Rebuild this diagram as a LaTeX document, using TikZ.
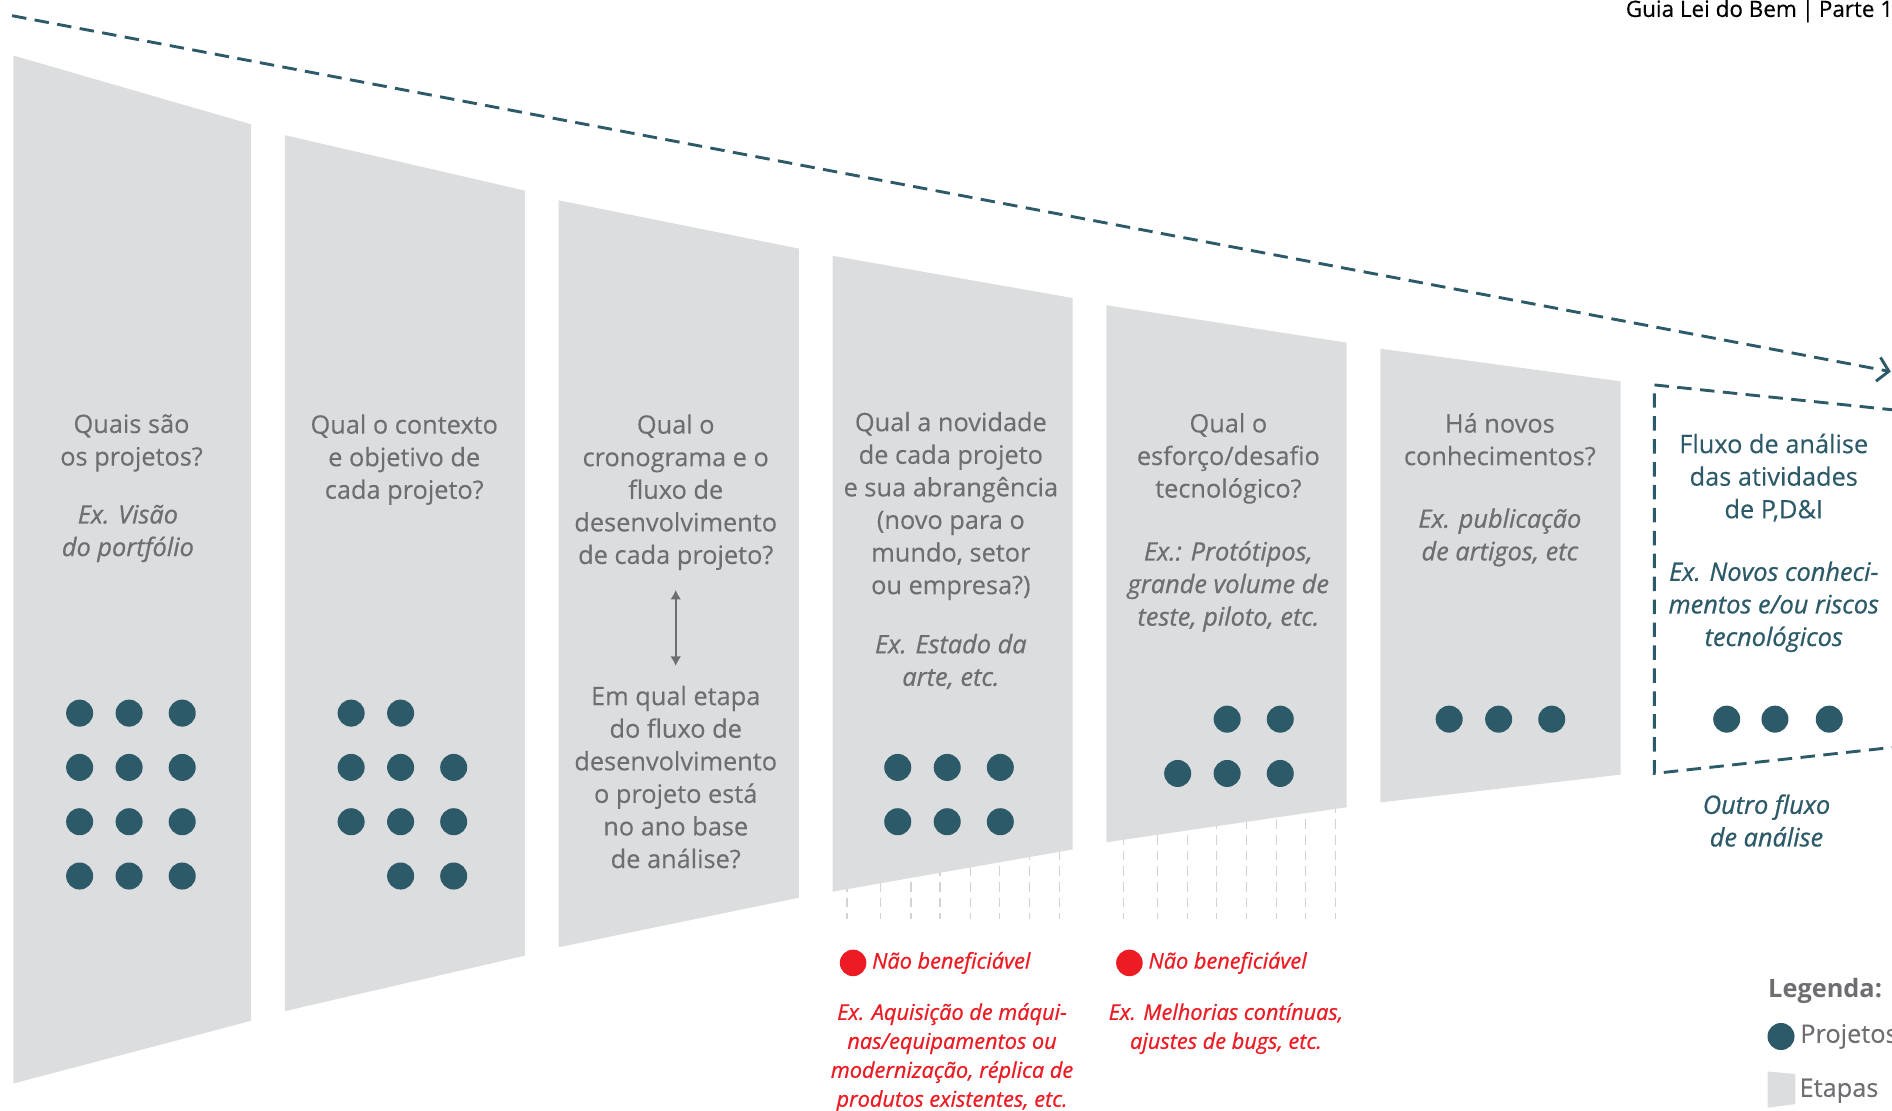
\documentclass[tikz,border=0pt]{standalone}
\usepackage{fontspec}
\setmainfont{Open Sans}[UprightFeatures={FakeBold=0.3},ItalicFeatures={FakeBold=0.8}]
\usetikzlibrary{arrows.meta,positioning}
\definecolor{etapa}{HTML}{DCDDDE}
\definecolor{petroleo}{HTML}{2D5A69}
\definecolor{cinza}{HTML}{6D6E71}
\definecolor{vermelho}{HTML}{ED1C24}
\definecolor{guia}{HTML}{D1D3D4}
\newcommand{\fonte}{\fontsize{10.5}{13.5}\selectfont}
\begin{document}
\begin{tikzpicture}[x=0.5pt,y=-0.5pt,
  pergunta/.style={text=cinza,align=center,inner sep=0pt,anchor=north,font=\fonte},
  exemplo/.style={pergunta,font=\fonte\itshape},
  alerta/.style={text=vermelho,align=center,inner sep=0pt,font=\fontsize{9}{12}\selectfont\itshape},
  projeto/.style={circle,fill=petroleo,minimum size=11.2pt,inner sep=0pt},
  naobenef/.style={circle,fill=vermelho,minimum size=11pt,inner sep=0pt},
  fluxo/.style={petroleo,line width=1.2pt,dash pattern=on 6pt off 3.5pt},
  guialinha/.style={guia,line width=0.5pt,dash pattern=on 4pt off 2.5pt}]
\useasboundingbox (0,0) rectangle (1568,920);
\clip (0,0) rectangle (1568,920);

% linhas de apoio sob as etapas 4 e 5
\foreach \x in {702,730,755,779,804,828,853,878,931,959,984,1008,1033,1058,1082,1107}
  \draw[guialinha] (\x,640) -- (\x,762);

% etapas
\fill[etapa] (11,46) -- (208,103) -- (208,846) -- (11,898) -- cycle;
\fill[etapa] (236,112) -- (435,158) -- (435,792) -- (236,838) -- cycle;
\fill[etapa] (463,166) -- (662,206) -- (662,744) -- (463,785) -- cycle;
\fill[etapa] (690,212) -- (889,247) -- (889,704) -- (690,739) -- cycle;
\fill[etapa] (917,253) -- (1116,284) -- (1116,669) -- (917,698) -- cycle;
\fill[etapa] (1144,289) -- (1343,316) -- (1343,642) -- (1144,665) -- cycle;

% fluxo geral
\coordinate (inicio) at (10,13);
\coordinate (fim) at (1567,308);
\draw[fluxo,-{Straight Barb[length=4.5pt,width=10pt]}] (inicio) -- (fim);
\draw[fluxo] (1572,340) -- (1371,319) -- (1371,641) -- (1572,619);

\node[anchor=base west,inner sep=0pt,font=\fontsize{9.3}{12}\selectfont] (cabecalho) at (1347,14) {Guia Lei do Bem\hspace{2pt}|\hspace{2pt}Parte 1};

% textos das etapas
\node[pergunta] (q1) at (109,343) {Quais são\\os projetos?};
\node[exemplo] (ex1) at (106,418) {Ex. Visão\\do portfólio};
\node[pergunta] (q2) at (335,343) {Qual o contexto\\e objetivo de\\cada projeto?};
\node[pergunta] (q3) at (560,343) {Qual o\\cronograma e o\\fluxo de\\desenvolvimento\\de cada projeto?};
\node[pergunta] (e3) at (560,568) {Em qual etapa\\do fluxo de\\desenvolvimento\\o projeto está\\no ano base\\de análise?};
\draw[cinza,line width=0.8pt,{Latex[length=4pt,width=4.5pt]}-{Latex[length=4pt,width=4.5pt]},shorten <=8pt,shorten >=8pt] (q3.south) -- (e3.north);
\node[pergunta] (q4) at (788,341) {Qual a novidade\\de cada projeto\\e sua abrangência\\(novo para o\\mundo, setor\\ou empresa?)};
\node[exemplo] (ex4) at (788,525) {Ex. Estado da\\arte, etc.};
\node[pergunta] (q5) at (1018,342) {Qual o\\esforço/desafio\\tecnológico?};
\node[exemplo] (ex5) at (1018,448) {Ex.: Protótipos,\\grande volume de\\teste, piloto, etc.};
\node[pergunta] (q6) at (1243,342) {Há novos\\conhecimentos?};
\node[exemplo] (ex6) at (1243,421) {Ex. publicação\\de artigos, etc};
\node[pergunta,text=petroleo] (q7) at (1470,359) {Fluxo de análise\\das atividades\\de P,D\&I};
\node[exemplo,text=petroleo] (ex7) at (1470,465) {Ex. Novos conheci-\\mentos e/ou riscos\\tecnológicos};
\node[exemplo,text=petroleo] (outro) at (1464,658) {Outro fluxo\\de análise};

% projetos
\foreach \x in {66,107,151}
  \foreach \y in {591,636,681,726}
    \node[projeto] at (\x,\y) {};
\foreach \x/\y in {291/591,332/591,291/636,332/636,376/636,291/681,332/681,376/681,332/726,376/726,
  744/636,785/636,829/636,744/681,785/681,829/681,
  1017/596,1061/596,976/641,1017/641,1061/641,
  1201/596,1242/596,1286/596,1431/596,1471/596,1516/596}
  \node[projeto] at (\x,\y) {};

% nao beneficiaveis
\node[naobenef] (r4) at (707,798) {};
\node[alerta,right=2pt of r4] (nb4) {Não beneficiável};
\node[alerta,anchor=north] (ax4) at (789,831) {Ex. Aquisição de máqui-\\nas/equipamentos ou\\modernização, réplica de\\produtos existentes, etc.};
\node[naobenef] (r5) at (936,798) {};
\node[alerta,right=2pt of r5] (nb5) {Não beneficiável};
\node[alerta,anchor=north] (ax5) at (1016,831) {Ex. Melhorias contínuas,\\ajustes de bugs, etc.};

% legenda
\node[anchor=west,inner sep=0pt,text=cinza,font=\fonte\bfseries] (legenda) at (1465,821) {Legenda:};
\node[projeto] (legprojeto) at (1476,859) {};
\node[right=2pt of legprojeto,inner sep=0pt,text=cinza,font=\fonte] (txtprojeto) {Projetos};
\fill[etapa] (1465,888) -- (1488,890) -- (1488,915) -- (1465,918) -- cycle;
\node[anchor=west,inner sep=0pt,text=cinza,font=\fonte] (txtetapa) at (1491,904) {Etapas};
\end{tikzpicture}
\end{document}
